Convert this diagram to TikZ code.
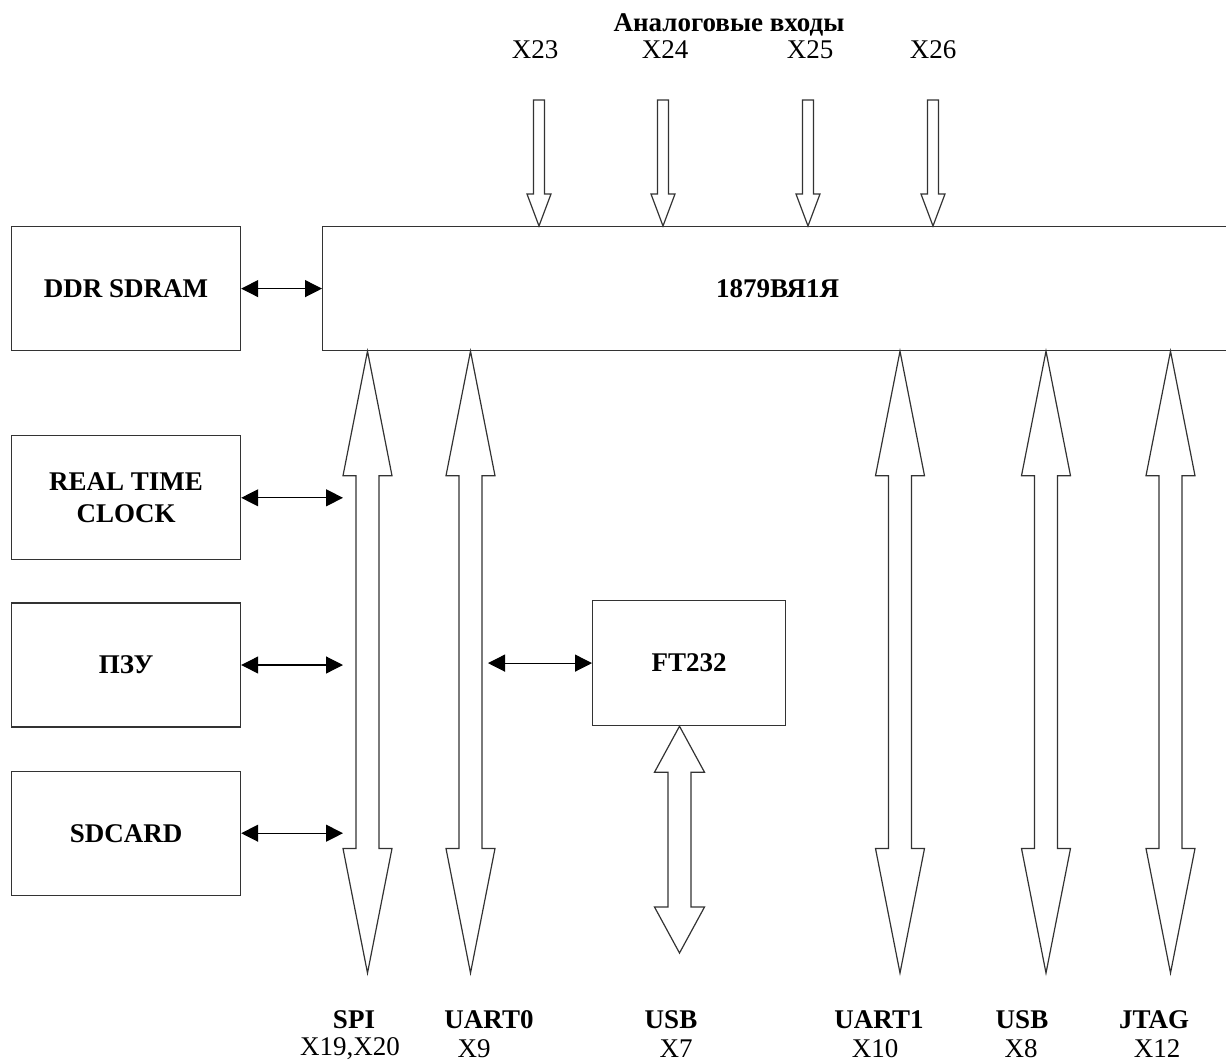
\documentclass[tikz,border=0pt]{standalone}
\usepackage{fontspec}
\setmainfont{Liberation Serif}
\usetikzlibrary{positioning,arrows.meta,calc}

% hollow bus arrow: top tip, bottom tip, head half width, head length, shaft half width
\newcommand{\busarrow}[5]{%
  \draw[bus] (#1) -- ($(#1)+(-#3,#4)$) -- ($(#1)+(-#5,#4)$) -- ($(#2)+(-#5,-#4)$)
    -- ($(#2)+(-#3,-#4)$) -- (#2) -- ($(#2)+(#3,-#4)$) -- ($(#2)+(#5,-#4)$)
    -- ($(#1)+(#5,#4)$) -- ($(#1)+(#3,#4)$) -- cycle;}
% thin hollow input arrow: tail, tip
\newcommand{\inarrow}[2]{%
  \draw[bus] ($(#1)+(-5.5,0)$) -- ($(#2)+(-5.5,-32)$) -- ($(#2)+(-12,-32)$) -- (#2)
    -- ($(#2)+(12,-32)$) -- ($(#2)+(5.5,-32)$) -- ($(#1)+(5.5,0)$) -- cycle;}

\begin{document}
\begin{tikzpicture}[
  x=0.5pt,y=-0.5pt,
  font=\fontsize{13.5}{16}\selectfont,
  blk/.style={draw=black!80,line width=0.6pt,minimum width=114.5pt,minimum height=62pt,
              inner sep=0pt,font=\fontsize{13.5}{16}\selectfont\bfseries,align=center},
  bus/.style={draw=black!80,line width=0.6pt,fill=white},
  link/.style={line width=0.6pt,{Triangle[length=8.5pt,width=8.5pt]}-{Triangle[length=8.5pt,width=8.5pt]}},
  port/.style={font=\fontsize{13.5}{16}\selectfont\bfseries,inner sep=0pt},
  conn/.style={font=\fontsize{13.5}{16}\selectfont,inner sep=0pt},
]
\useasboundingbox (0,0) rectangle (1226,1061);
% processor and memory
\node[blk,anchor=north west,minimum width=455pt] (main) at (322,226) {1879ВЯ1Я};
\node[blk,anchor=north west] (ddr) at (11,226) {DDR SDRAM};
\node[blk,below=42pt of ddr] (rtc) {REAL TIME\\CLOCK};
\node[blk,below=21pt of rtc] (pzu) {ПЗУ};
\node[blk,below=21.5pt of pzu] (sd) {SDCARD};
\node[blk,anchor=north west,minimum width=96.5pt,minimum height=62.5pt] (ft) at (592,600) {FT232};

% analog inputs
\node[port] (ain) at (729,25) {Аналоговые входы};
\node[conn] (x23) at (535,50) {X23};
\node[conn] (x24) at (665,50) {X24};
\node[conn] (x25) at (810,50) {X25};
\node[conn] (x26) at (933,50) {X26};
\coordinate (in23) at (539,100);
\coordinate (in24) at (663,100);
\coordinate (in25) at (808,100);
\coordinate (in26) at (933,100);
\foreach \k in {23,24,25,26}
  \inarrow{in\k}{in\k |- main.north};

% bus ends
\coordinate (spiB) at (367.5,973);
\coordinate (u0B) at (470.5,973);
\coordinate (u1B) at (900,973);
\coordinate (usbB) at (1046,973);
\coordinate (jtagB) at (1170.5,973);
\coordinate (ftB) at (679.5,953);
\foreach \b in {spiB,u0B,u1B,usbB,jtagB}
  \busarrow{\b |- main.south}{\b}{24.5}{124.5}{11.5};
\busarrow{ftB |- ft.south}{ftB}{25}{46}{11.5};

% side links
\coordinate (spiL) at (343,0);
\coordinate (u0R) at (488,0);
\draw[link] (ddr.east) -- (main.west);
\draw[link] (rtc.east) -- (rtc.east -| spiL);
\draw[link] (pzu.east) -- (pzu.east -| spiL);
\draw[link] (sd.east) -- (sd.east -| spiL);
\draw[link] (ft.west -| u0R) -- (ft.west);

% interface labels
\node[port] (lspi) at (354,1020) {SPI};
\node[port] (lu0) at (489,1020) {UART0};
\node[port] (lusb1) at (671,1020) {USB};
\node[port] (lu1) at (879,1020) {UART1};
\node[port] (lusb2) at (1022,1020) {USB};
\node[port] (ljtag) at (1154,1020) {JTAG};
\node[conn] (cspi) at (350,1049) {X19,X20};
\node[conn] (cu0) at (474,1049) {X9};
\node[conn] (cusb1) at (676,1049) {X7};
\node[conn] (cu1) at (875,1049) {X10};
\node[conn] (cusb2) at (1021,1049) {X8};
\node[conn] (cjtag) at (1157,1049) {X12};
\end{tikzpicture}
\end{document}
